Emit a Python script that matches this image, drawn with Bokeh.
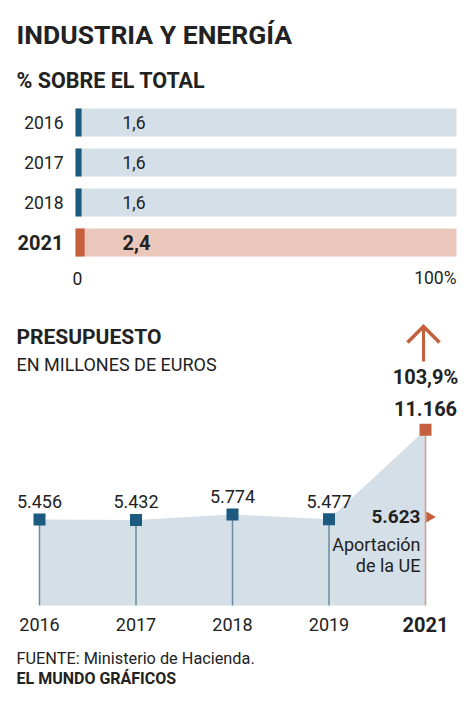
from bokeh.plotting import figure
from bokeh.models import Range1d
from bokeh.layouts import column
from bokeh.core.properties import value
from bokeh.embed import file_html
from bokeh.resources import INLINE

# ---------------- data ----------------
share_years = ["2016", "2017", "2018", "2021"]
share_values = [1.6, 1.6, 1.6, 2.4]

budget_years = ["2016", "2017", "2018", "2019", "2021"]
budget_values = [5456, 5432, 5774, 5477, 11166]
eu_contribution = 5623

title = "INDUSTRIA Y ENERGÍA"
subtitle = "% SOBRE EL TOTAL"
title2 = "PRESUPUESTO"
subtitle2 = "EN MILLONES DE EUROS"
source = "FUENTE: Ministerio de Hacienda."
credit = "EL MUNDO GRÁFICOS"

# ---------------- style ----------------
FONT = value("Roboto")
TXT = "#222222"
BLUE_BG = "#d4dfe7"
BLUE = "#1d5a7f"
RED_BG = "#ebc6bb"
RED = "#c55f3e"
STEM = "#6a8ba0"
RED_STEM = "#d49a87"

M = 0          # observed page offset of the layout
W = 458
H1 = 290
H2 = 402


def es_num(v):
    return f"{v:,}".replace(",", ".")


def es_dec(v):
    return f"{v:.1f}".replace(".", ",")


def base(h, xr, yr):
    p = figure(width=W, height=h, x_range=xr, y_range=yr,
               output_backend="svg", toolbar_location=None,
               x_axis_location=None, y_axis_location=None,
               min_border=0)
    p.grid.visible = False
    p.outline_line_color = None
    p.background_fill_color = "white"
    p.border_fill_color = "white"
    return p


def txt(p, x, y, s, size, bold=False, align="left",
        color=TXT, x_off=0, y_off=0):
    p.text(x=x, y=y, text=s, text_font=FONT, text_font_size=f"{size}px",
           text_font_style="bold" if bold else "normal", text_align=align,
           text_baseline="middle", text_color=color,
           x_offset=x_off, y_offset=y_off)


# ---------------- figure 1: share bars ----------------
# page coords: bar 0 at x=75, 100 at x=456; row 0 centre at y=122, 40px per row
SX1 = 3.81
X0 = 75 - M
Y0 = 122 - M


def fx1(px):
    return (px - M - X0) / SX1


def fy1(py):
    return (py - M - Y0) / 40.0


p1 = base(H1, Range1d(-X0 / SX1, (W - X0) / SX1),
          Range1d((H1 - Y0) / 40.0, -Y0 / 40.0))

rows = list(range(len(share_years)))
last = len(share_years) - 1
bg_cols = [RED_BG if i == last else BLUE_BG for i in rows]
fg_cols = [RED if i == last else BLUE for i in rows]

p1.hbar(y=rows, left=0, right=100, height=0.7, fill_color=bg_cols, line_color=None)
p1.hbar(y=rows, left=0, right=share_values, height=0.7, fill_color=fg_cols, line_color=None)

txt(p1, [fx1(16)], [fy1(34)], [title], 26.5, bold=True)
txt(p1, [fx1(16)], [fy1(80)], [subtitle], 21.5, bold=True)

for i in rows:
    b = i == last
    txt(p1, [fx1(63)], [i], [share_years[i]], 20 if b else 17.5, bold=b,
        align="right")
    txt(p1, [fx1(122)], [i], [es_dec(share_values[i])], 20 if b else 17.5,
        bold=b)

txt(p1, [0], [fy1(277.5)], ["0"], 17.5, align="center", x_off=2)
txt(p1, [100], [fy1(277.5)], ["100%"], 17.5, align="right")

# ---------------- figure 2: budget area ----------------
# page coords: index 0 at x=39, 96.5px per step; baseline y=605, 63.5 units/px
TOP2 = M + H1
SX2 = 96.5
XO2 = 39 - M
UPP = 63.5
BASE2 = 605 - TOP2


def fx2(px):
    return (px - M - XO2) / SX2


def fy2(py):
    return (605 - py) * UPP


p2 = base(H2, Range1d(-XO2 / SX2, (W - XO2) / SX2),
          Range1d(-(H2 - BASE2) * UPP, BASE2 * UPP))

idx = list(range(len(budget_years)))
n = len(idx) - 1

p2.varea(x=idx, y1=[0] * len(idx), y2=budget_values, fill_color=BLUE_BG)
p2.segment(x0=idx[:-1], y0=[0] * n, x1=idx[:-1], y1=budget_values[:-1],
           line_color=STEM, line_width=1.5)
p2.segment(x0=[idx[-1]], y0=[0], x1=[idx[-1]], y1=[budget_values[-1]],
           line_color=RED_STEM, line_width=1.5)
p2.scatter(x=idx[:-1], y=budget_values[:-1], marker="square", size=12,
           fill_color=BLUE, line_color=None)
p2.scatter(x=[idx[-1]], y=[budget_values[-1]], marker="square", size=12,
           fill_color=RED, line_color=None)

for i in idx[:-1]:
    txt(p2, [i], [budget_values[i]], [es_num(budget_values[i])], 18,
        align="center", y_off=-18)

growth = round((budget_values[-1] / budget_values[-2] - 1) * 100, 1)
txt(p2, [idx[-1]], [budget_values[-1]], [es_num(budget_values[-1])], 20,
    bold=True, align="center", y_off=-21.5)
txt(p2, [idx[-1]], [budget_values[-1]], [es_dec(growth) + "%"], 20,
    bold=True, align="center", y_off=-52.5)

# growth arrow: shaft + wide chevron head
ax = idx[-1] - 2 / SX2
p2.segment(x0=[ax], y0=[fy2(361)], x1=[ax], y1=[fy2(327)],
           line_color=RED, line_width=3)
p2.line(x=[ax - 16 / SX2, ax, ax + 16 / SX2],
        y=[fy2(342), fy2(326), fy2(342)],
        line_color=RED, line_width=3.5, line_join="miter")

# EU contribution marker (nudged right of the stem)
p2.scatter(x=[idx[-1] + 4 / SX2], y=[eu_contribution], marker="triangle",
           size=11, angle=-1.5708, fill_color=RED, line_color=None)
txt(p2, [fx2(420)], [eu_contribution], [es_num(eu_contribution)], 19,
    bold=True, align="right")
txt(p2, [fx2(420)], [fy2(543.5)], ["Aportación"], 18, align="right")
txt(p2, [fx2(420)], [fy2(565)], ["de la UE"], 18, align="right")

for i in idx:
    b = i == n
    txt(p2, [i], [fy2(623.5)], [budget_years[i]], 20 if b else 18, bold=b,
        align="center")

txt(p2, [fx2(16)], [fy2(336.5)], [title2], 21, bold=True)
txt(p2, [fx2(16)], [fy2(363.5)], [subtitle2], 18)
txt(p2, [fx2(16)], [fy2(657.5)], [source], 16.3)
txt(p2, [fx2(16)], [fy2(677.5)], [credit], 16, bold=True)

layout = column(p1, p2, spacing=0)
open("out.html", "w").write(file_html(layout, INLINE))
